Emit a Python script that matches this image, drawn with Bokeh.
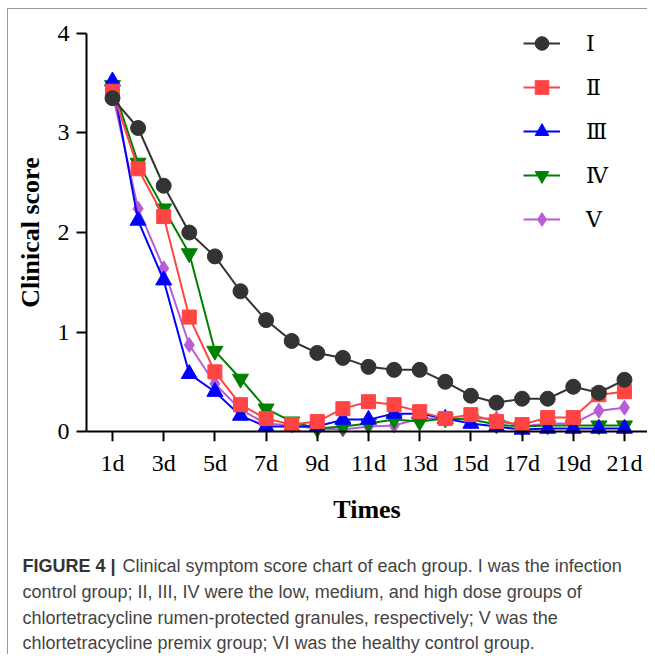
from bokeh.plotting import figure
from bokeh.layouts import column, row
from bokeh.models import FixedTicker, Legend, LegendItem, Label, LinearAxis
from bokeh.embed import file_html
from bokeh.resources import INLINE

days = list(range(1, 22))
tick_days = [1, 3, 5, 7, 9, 11, 13, 15, 17, 19, 21]
tick_labels = ["1d", "3d", "5d", "7d", "9d", "11d", "13d", "15d", "17d", "19d", "21d"]
y_ticks = [0, 1, 2, 3, 4]

group_I = [3.35, 3.05, 2.47, 2.00, 1.76, 1.41, 1.12, 0.91, 0.79, 0.74, 0.65,
           0.62, 0.62, 0.50, 0.36, 0.29, 0.33, 0.33, 0.45, 0.39, 0.52]
group_II = [3.42, 2.64, 2.16, 1.15, 0.60, 0.27, 0.13, 0.07, 0.10, 0.23, 0.30,
            0.27, 0.20, 0.13, 0.17, 0.10, 0.07, 0.14, 0.14, 0.37, 0.40]
group_III = [3.52, 2.12, 1.52, 0.58, 0.40, 0.16, 0.05, 0.05, 0.05, 0.12, 0.12,
             0.18, 0.18, 0.13, 0.08, 0.05, 0.02, 0.03, 0.03, 0.03, 0.03]
group_IV = [3.48, 2.70, 2.24, 1.79, 0.81, 0.53, 0.23, 0.10, 0.03, 0.05, 0.08,
            0.12, 0.10, 0.13, 0.12, 0.07, 0.05, 0.06, 0.06, 0.06, 0.06]
group_V = [3.40, 2.24, 1.64, 0.87, 0.48, 0.22, 0.08, 0.06, 0.03, 0.02, 0.05,
           0.06, 0.13, 0.13, 0.13, 0.13, 0.05, 0.08, 0.08, 0.21, 0.24]

series_names = ["Ⅰ", "Ⅱ", "Ⅲ", "Ⅳ", "Ⅴ"]
series_values = [group_I, group_II, group_III, group_IV, group_V]
series_colors = ["#333333", "#FF4444", "#0000FF", "#008000", "#B85CD6"]
series_markers = ["circle", "square", "triangle", "inverted_triangle", "diamond"]
series_sizes = [15, 14, 16, 16, 15]

caption_bold = "FIGURE 4 |"
caption_lines = [
    "Clinical symptom score chart of each group. I was the infection",
    "control group; II, III, IV were the low, medium, and high dose groups of",
    "chlortetracycline rumen-protected granules, respectively; V was the",
    "chlortetracycline premix group; VI was the healthy control group.",
]

W = 647
p = figure(width=W, height=530, x_range=(-0.0156, 21.9), y_range=(-0.1, 4.1),
           output_backend="svg", toolbar_location=None,
           min_border_left=86, min_border_top=23, min_border_right=0,
           min_border_bottom=89)
p.grid.visible = False
p.outline_line_color = None
p.background_fill_color = "white"
p.border_fill_alpha = 0

serif = "Liberation Serif"

# axis line and ticks at y = 0
xa = p.xaxis[0]
xa.fixed_location = 0
xa.ticker = FixedTicker(ticks=tick_days)
xa.axis_line_width = 2
xa.major_tick_line_width = 2
xa.major_tick_out = 10
xa.major_tick_in = 0
xa.minor_tick_line_color = None
xa.major_label_text_font_size = "0px"
xa.major_label_text_alpha = 0

# labels for the x axis
xb = LinearAxis(ticker=FixedTicker(ticks=tick_days))
xb.major_label_overrides = {d: t for d, t in zip(tick_days, tick_labels)}
xb.axis_line_color = None
xb.major_tick_line_color = None
xb.minor_tick_line_color = None
xb.major_tick_out = 0
xb.major_tick_in = 0
xb.major_label_text_font = serif
xb.major_label_text_font_size = "24px"
xb.major_label_text_color = "black"
xb.major_label_standoff = 8
xb.axis_label = "Times"
xb.axis_label_text_font = serif
xb.axis_label_text_font_style = "bold"
xb.axis_label_text_font_size = "26px"
xb.axis_label_text_color = "black"
xb.axis_label_standoff = 16
p.add_layout(xb, "below")

ya = p.yaxis[0]
ya.bounds = (0, 4)
ya.ticker = FixedTicker(ticks=y_ticks)
ya.axis_line_width = 2
ya.major_tick_line_width = 2
ya.major_tick_out = 10
ya.major_tick_in = 0
ya.minor_tick_line_color = None
ya.major_label_text_font = serif
ya.major_label_text_font_size = "24px"
ya.major_label_text_color = "black"
ya.major_label_standoff = 7
ya.axis_label = "Clinical score"
ya.axis_label_text_font = serif
ya.axis_label_text_font_style = "bold"
ya.axis_label_text_font_size = "26px"
ya.axis_label_text_color = "black"
ya.axis_label_standoff = 10

items = {}
for i in reversed(range(5)):
    ln = p.line(days, series_values[i], line_color=series_colors[i], line_width=2)
    sc = p.scatter(days, series_values[i], marker=series_markers[i],
                   size=series_sizes[i], fill_color=series_colors[i],
                   line_color=series_colors[i])
    items[i] = LegendItem(label=series_names[i], renderers=[ln, sc])

legend = Legend(items=[items[i] for i in range(5)], location=(437, 205),
                glyph_width=37, glyph_height=34, label_height=34, spacing=10,
                label_standoff=26, padding=0, margin=0,
                border_line_color=None, background_fill_alpha=0,
                label_text_font="DejaVu Serif", label_text_font_size="22px",
                label_text_color="black")
p.add_layout(legend, "center")

# caption panel
CH = 124
cap = figure(width=W, height=CH, x_range=(0, 1), y_range=(0, 1),
             output_backend="svg", toolbar_location=None,
             x_axis_location=None, y_axis_location=None,
             min_border_left=0, min_border_right=0, min_border_top=0,
             min_border_bottom=0)
cap.grid.visible = False
cap.outline_line_color = None
cap.background_fill_alpha = 0
cap.border_fill_alpha = 0

cap_font = "Liberation Sans"
cap_size = "18px"
cap_y = [CH - 35, CH - 61, CH - 87, CH - 112]
cap.add_layout(Label(x=22, y=cap_y[0], x_units="screen", y_units="screen",
                     text=caption_bold, text_font=cap_font, text_font_size=cap_size,
                     text_font_style="bold", text_color="#333333",
                     text_baseline="middle"))
for k, line in enumerate(caption_lines):
    xoff = 122 if k == 0 else 22
    cap.add_layout(Label(x=xoff, y=cap_y[k], x_units="screen", y_units="screen",
                         text=line, text_font=cap_font, text_font_size=cap_size,
                         text_color="#444444", text_baseline="middle"))

layout = column(p, row(cap), spacing=0)
layout.styles = {
    "background": "linear-gradient(#999999,#999999) 7px 8px / 1px 100% no-repeat, "
                  "linear-gradient(#999999,#999999) 7px 8px / 100% 1px no-repeat, #ffffff"
}

open("out.html", "w").write(file_html(layout, INLINE))
